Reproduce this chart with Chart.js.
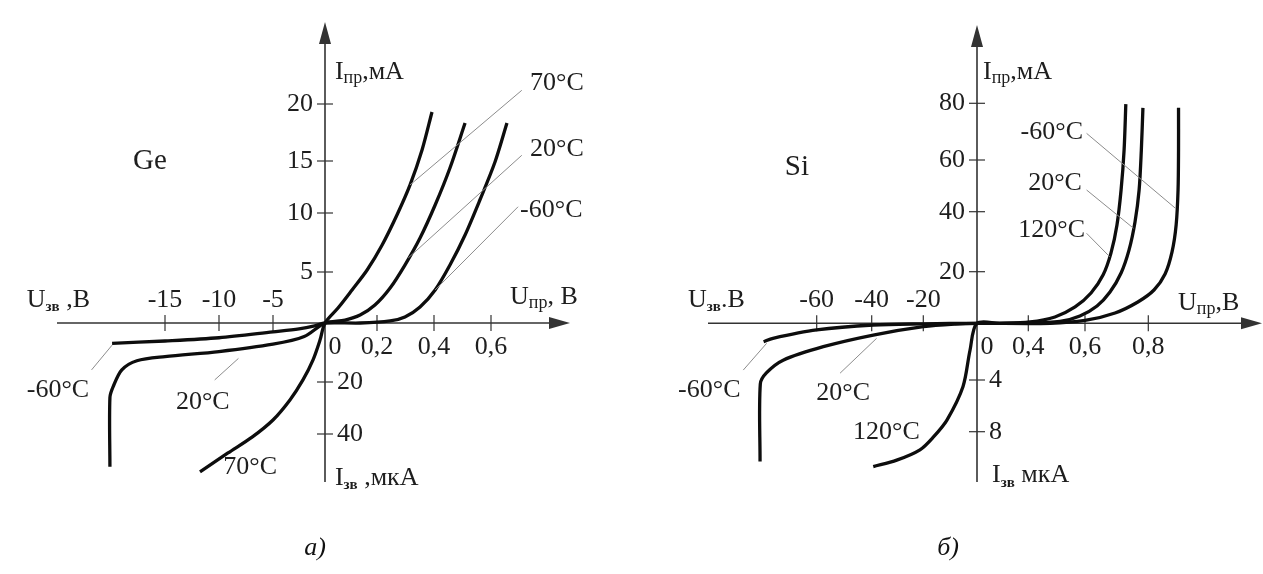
<!DOCTYPE html>
<html><head><meta charset="utf-8">
<script src="https://cdn.jsdelivr.net/npm/chart.js@4.4.1/dist/chart.umd.min.js"></script>
<style>
html,body{margin:0;padding:0;background:#fff;width:1263px;height:574px;overflow:hidden;}
canvas{position:absolute;top:0;}
#cGe{left:0}
#cSi{left:632px}
.cap{position:absolute;top:530px;width:60px;text-align:center;font:italic 26px "Liberation Serif",serif;line-height:34px;color:#111;}
</style></head><body>
<canvas id="cGe" width="632" height="574"></canvas>
<canvas id="cSi" width="631" height="574"></canvas>
<div class="cap" style="left:285px">а)</div>
<div class="cap" style="left:918px">б)</div>
<script>
// ---------- DATA (U in V; forward I in mA, reverse I in µA as negative values) ----------
// Ge
const geNames = ['70°C', '20°C', '-60°C'];
const geCurve70 = [[-11.76,-54.6],[-9.17,-47.3],[-6.94,-41.2],[-5.0,-34.6],[-3.37,-26.9],[-2.12,-19.3],[-1.15,-12.5],[-0.48,-5.8],[0,0],[0.05,1.47],[0.104,3.24],[0.162,5.17],[0.218,7.29],[0.27,9.83],[0.316,12.7],[0.358,15.96],[0.393,19.3]];
const geCurve20 = [[-20.1,-52.6],[-20.1,-26],[-19.8,-21.8],[-19.0,-15.9],[-17.6,-12.8],[-15,-11.4],[-10,-9.7],[-5,-7.2],[-2,-4.6],[0,0],[0.077,0.29],[0.135,0.78],[0.192,1.76],[0.246,3.43],[0.298,5.59],[0.351,7.88],[0.404,10.77],[0.456,14.33],[0.509,18.33]];
const geCurveM60 = [[-19.9,-6.9],[-15,-6.1],[-10,-5.0],[-5,-3.0],[-2.5,-2.0],[-1,-1.0],[0,0],[0.135,0],[0.246,0.2],[0.298,0.59],[0.351,1.57],[0.404,3.24],[0.456,5.59],[0.509,8.14],[0.561,11.25],[0.614,14.9],[0.656,18.33]];
const geTicksUneg = [-15, -10, -5];
const geTicksUpos = [0, 0.2, 0.4, 0.6];
const geTicksIpos = [5, 10, 15, 20];
const geTicksIneg = [-20, -40];
// Si
const siNames = ['-60°C', '20°C', '120°C'];
const siCurveM60 = [[-79.3,-1.3],[-75.9,-1.06],[-60,-0.47],[-39.4,-0.12],[-20,-0.04],[0,0],[0.477,0],[0.6,1.09],[0.695,3.99],[0.767,8.26],[0.818,12.9],[0.853,19.1],[0.875,26.6],[0.888,35.6],[0.894,48.4],[0.8955,63.5],[0.8955,78.4]];
const siCurve20 = [[-80.6,-10.3],[-80.5,-4.3],[-78.3,-3.5],[-72.2,-2.6],[-57.6,-1.65],[-39.4,-0.83],[-20,-0.24],[-8,-0.05],[0,0],[0.406,0],[0.512,0.7],[0.582,2.83],[0.638,6.7],[0.679,12.1],[0.714,19.5],[0.739,27.2],[0.758,36.6],[0.771,48.4],[0.778,63.5],[0.783,78.4]];
const siCurve120 = [[-39.4,-10.7],[-30.3,-10.2],[-21.3,-9.4],[-16.2,-8.4],[-11.2,-7.1],[-5.2,-4.5],[-2.6,-1.9],[0,0],[0.179,0],[0.406,0.5],[0.494,2.44],[0.565,6.32],[0.619,11.74],[0.657,18.7],[0.682,26.2],[0.701,35.6],[0.714,48.4],[0.7235,63.5],[0.729,79.7]];
const siTicksUneg = [-60, -40, -20];
const siTicksUpos = [0, 0.4, 0.6, 0.8];
const siTicksIpos = [20, 40, 60, 80];
const siTicksIneg = [-4, -8];

// ---------- custom piecewise-linear scale (the figure uses different units per quadrant) ----------
class KnotScale extends Chart.LinearScale {
  determineDataLimits() {
    const k = this.options.knots;
    this.min = k[0][0];
    this.max = k[k.length - 1][0];
  }
  buildTicks() { return (this.options.tickValues || []).map(v => ({value: v})); }
  getPixelForValue(value) {
    const k = this.options.knots;
    let i = 0;
    while (i < k.length - 2 && value > k[i + 1][0]) i++;
    const [v0, o0] = k[i], [v1, o1] = k[i + 1];
    const off = o0 + (value - v0) * (o1 - o0) / (v1 - v0);
    return this.getPixelForDecimal(off / this._length);
  }
  getValueForPixel(pixel) {
    const off = this.getDecimalForPixel(pixel) * this._length;
    const k = this.options.knots;
    let i = 0;
    while (i < k.length - 2 && off > k[i + 1][1]) i++;
    const [v0, o0] = k[i], [v1, o1] = k[i + 1];
    return v0 + (off - o0) * (v1 - v0) / (o1 - o0);
  }
}
KnotScale.id = 'knot';
KnotScale.defaults = Chart.LinearScale.defaults;
Chart.register(KnotScale);

const AX = '#333', TXT = '#1e1e1e', FONT = '"Liberation Serif", serif';

function drawRich(ctx, parts, x, y, align) {
  const segs = parts.map(p => {
    const [t, kind] = typeof p === 'string' ? [p, 'n'] : p;
    const font = kind === 's' ? `18px ${FONT}` : kind === 'b' ? `bold 15px ${FONT}` : kind === 'L' ? `29px ${FONT}` : `26px ${FONT}`;
    ctx.font = font;
    return {t, font, dy: kind === 's' ? 6 : kind === 'b' ? 7 : 0, w: ctx.measureText(t).width};
  });
  const total = segs.reduce((s, g) => s + g.w, 0);
  let cx = align === 'right' ? x - total : align === 'center' ? x - total / 2 : x;
  ctx.textAlign = 'left';
  ctx.textBaseline = 'middle';
  segs.forEach(g => { ctx.font = g.font; ctx.fillText(g.t, cx, y + g.dy); cx += g.w; });
}

function axesPlugin(s) {
  return {
    id: 'axesCross',
    beforeDatasetsDraw(chart) {
      const {ctx, chartArea: a, scales: {x, y}} = chart;
      const ox = x.getPixelForValue(0), oy = y.getPixelForValue(0);
      const line = (x1, y1, x2, y2) => { ctx.beginPath(); ctx.moveTo(x1, y1); ctx.lineTo(x2, y2); ctx.stroke(); };
      const tri = (pts) => { ctx.beginPath(); ctx.moveTo(...pts[0]); ctx.lineTo(...pts[1]); ctx.lineTo(...pts[2]); ctx.closePath(); ctx.fill(); };
      ctx.save();
      ctx.strokeStyle = AX; ctx.fillStyle = AX; ctx.lineWidth = 1.6;
      line(a.left, oy, a.right - 12, oy);
      line(ox, a.bottom, ox, a.top + 12);
      tri([[a.right, oy], [a.right - 21, oy - 6], [a.right - 21, oy + 6]]);
      tri([[ox, a.top], [ox - 6, a.top + 22], [ox + 6, a.top + 22]]);
      ctx.lineWidth = 1.2;
      s.uNeg.concat(s.uPos.filter(v => v !== 0)).forEach(v => { const p = x.getPixelForValue(v); line(p, oy - 8, p, oy + 8); });
      s.iPos.concat(s.iNeg).forEach(v => { const p = y.getPixelForValue(v); line(ox - 8, p, ox + 8, p); });
      ctx.fillStyle = TXT; ctx.font = `26px ${FONT}`; ctx.textBaseline = 'middle';
      ctx.textAlign = 'center';
      s.uNeg.forEach(v => ctx.fillText(String(v), x.getPixelForValue(v), oy - 23));
      s.uPos.forEach(v => ctx.fillText(String(v).replace('.', ','), x.getPixelForValue(v) + (v === 0 ? 10 : 0), oy + 24));
      ctx.textAlign = 'right';
      s.iPos.forEach(v => ctx.fillText(String(v), ox - 12, y.getPixelForValue(v)));
      ctx.textAlign = 'left';
      s.iNeg.forEach(v => ctx.fillText(String(-v), ox + 12, y.getPixelForValue(v)));
      ctx.restore();
    },
    afterDatasetsDraw(chart) {
      const {ctx, scales: {x, y}} = chart;
      ctx.save();
      ctx.fillStyle = TXT;
      s.notes.forEach(n => drawRich(ctx, n.parts, x.getPixelForValue(n.at[0]), y.getPixelForValue(n.at[1]), n.align));
      ctx.restore();
    }
  };
}

function build(id, s) {
  const datasets = [];
  s.leaders.forEach(l => datasets.push({data: l.map(([x, y]) => ({x, y})), borderColor: '#8c8c8c', borderWidth: 1, pointRadius: 0, showLine: true, tension: 0, clip: false}));
  s.curves.forEach((c, i) => datasets.push({label: s.names[i], data: c.map(([x, y]) => ({x, y})), borderColor: '#0d0d0d', borderWidth: 3.3, pointRadius: 0, showLine: true, tension: 0.3, clip: false, borderJoinStyle: 'round'}));
  return new Chart(document.getElementById(id), {
    type: 'scatter',
    data: {datasets},
    options: {
      responsive: false, animation: false, devicePixelRatio: 1, events: [],
      layout: {padding: s.padding},
      plugins: {legend: {display: false}, tooltip: {enabled: false}},
      scales: {
        x: {type: 'knot', display: false, knots: s.xKnots, tickValues: s.uNeg.concat(s.uPos)},
        y: {type: 'knot', display: false, knots: s.yKnots, tickValues: s.iNeg.concat(s.iPos)}
      }
    },
    plugins: [axesPlugin(s)]
  });
}

build('cGe', {
  names: geNames,
  curves: [geCurve70, geCurve20, geCurveM60],
  uNeg: geTicksUneg, uPos: geTicksUpos, iPos: geTicksIpos, iNeg: geTicksIneg,
  padding: {left: 57, right: 62, top: 22, bottom: 92},
  xKnots: [[-15,108],[-10,162],[-5,216],[0,268],[0.2,320],[0.4,377],[0.6,434]],
  yKnots: [[-40,48],[-20,100],[0,159],[5,210],[10,269],[15,321],[20,378]],
  leaders: [
    [[0.708,21.2],[0.316,12.7]], [[0.708,15.5],[0.31,6.2]], [[0.695,10.6],[0.404,3.24]],
    [[-21.8,-15.9],[-19.9,-7.5]], [[-10.4,-19.3],[-8.2,-12.0]]
  ],
  notes: [
    {parts: [['Ge','L']], at: [-16.4, 15], align: 'center'},
    {parts: ['I', ['пр','s'], ',мА'], at: [0.038, 22.8], align: 'left'},
    {parts: ['70°C'], at: [0.737, 21.8], align: 'left'},
    {parts: ['20°C'], at: [0.737, 16.0], align: 'left'},
    {parts: ['-60°C'], at: [0.702, 10.3], align: 'left'},
    {parts: ['U', ['пр','s'], ', В'], at: [0.667, 2.5], align: 'left'},
    {parts: ['U', ['зв','b'], ' ,В'], at: [-27.8, 2.25], align: 'left'},
    {parts: ['I', ['зв','b'], ' ,мкА'], at: [0.038, -56.9], align: 'left'},
    {parts: ['-60°C'], at: [-27.8, -23.1], align: 'left'},
    {parts: ['20°C'], at: [-11.5, -27.7], align: 'center'},
    {parts: ['70°C'], at: [-9.6, -52.7], align: 'left'}
  ]
});

build('cSi', {
  names: siNames,
  curves: [siCurveM60, siCurve20, siCurve120],
  uNeg: siTicksUneg, uPos: siTicksUpos, iPos: siTicksIpos, iNeg: siTicksIneg,
  padding: {left: 76, right: 1, top: 25, bottom: 92},
  xKnots: [[-60,108.7],[-40,163.7],[-20,215.3],[0,269],[0.4,320.3],[0.6,377],[0.8,440.3]],
  yKnots: [[-8,50.3],[-4,102],[0,158.7],[20,210.3],[40,270.3],[60,322],[80,378.7]],
  leaders: [
    [[0.605,69.4],[0.886,41.3]], [[0.605,48.4],[0.753,34.5]], [[0.605,32.8],[0.678,25]],
    [[-86.7,-3.3],[-78.2,-1.41]], [[-51.5,-3.52],[-38.1,-1.06]]
  ],
  notes: [
    {parts: [['Si','L']], at: [-67.2, 57.3], align: 'center'},
    {parts: ['I', ['пр','s'], ',мА'], at: [0.047, 91], align: 'left'},
    {parts: ['-60°C'], at: [0.593, 69.9], align: 'right'},
    {parts: ['20°C'], at: [0.589, 51.1], align: 'right'},
    {parts: ['120°C'], at: [0.600, 33.9], align: 'right'},
    {parts: ['U', ['пр','s'], ',В'], at: [0.894, 7.9], align: 'left'},
    {parts: ['U', ['зв','b'], '.В'], at: [-106.8, 9.0], align: 'left'},
    {parts: ['I', ['зв','b'], ' мкА'], at: [0.117, -11.4], align: 'left'},
    {parts: ['-60°C'], at: [-110.4, -4.8], align: 'left'},
    {parts: ['20°C'], at: [-50.4, -5.0], align: 'center'},
    {parts: ['120°C'], at: [-46.8, -8], align: 'left'}
  ]
});
</script>
</body></html>
